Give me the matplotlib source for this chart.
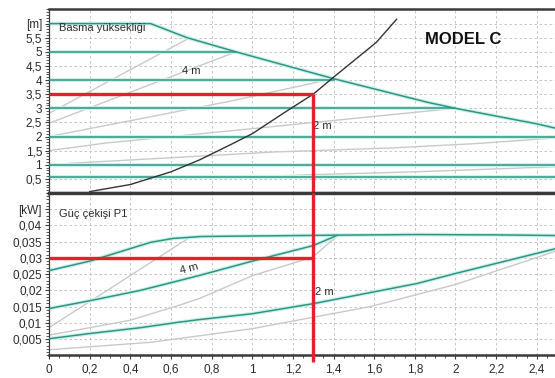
import matplotlib
matplotlib.use("Agg")
import matplotlib.pyplot as plt
from matplotlib.ticker import MultipleLocator

plt.rcParams['font.family'] = ['Liberation Sans', 'DejaVu Sans']

# ---------------- data ----------------
x_ticks = [0, 0.2, 0.4, 0.6, 0.8, 1.0, 1.2, 1.4, 1.6, 1.8, 2.0, 2.2, 2.4]
x_labels = ['0', '0,2', '0,4', '0,6', '0,8', '1', '1,2', '1,4', '1,6', '1,8', '2', '2,2', '2,4']
h_ticks = [0.5, 1, 1.5, 2, 2.5, 3, 3.5, 4, 4.5, 5, 5.5, 6]
h_labels = ['0,5', '1', '1,5', '2', '2,5', '3', '3,5', '4', '4,5', '5', '5,5', '[m]']
p_ticks = [0.005, 0.01, 0.015, 0.02, 0.025, 0.03, 0.035, 0.04, 0.045]
p_labels = ['0,005', '0,01', '0,015', '0,02', '0,025', '0,03', '0,035', '0,04', '[kW]']

# head: max curve
q_max = [0, 0.5, 0.68, 0.92, 1.4, 1.87, 2.0, 2.4, 2.49]
h_max = [6.0, 6.0, 5.5, 5.0, 4.05, 3.2, 3.0, 2.45, 2.3]
# constant-head (teal) lines: level and end flow
h_const = [5, 4, 3, 2, 1, 0.55]
h_const_end = [0.92, 1.4, 2.0, 2.49, 2.49, 2.49]
# grey head curves
hg_q = [[0, 0.68], [0, 0.92], [0, 0.89, 1.4], [0, 0.28, 0.89, 1.72, 2.0],
        [0.1, 0.6, 1.1, 1.7, 2.1, 2.49], [0.9, 1.3, 1.8, 2.49]]
hg_h = [[2.82, 5.45], [2.47, 5.0], [2.0, 3.25, 4.05], [1.5, 1.77, 2.2, 2.8, 3.0],
        [1.05, 1.25, 1.45, 1.6, 1.75, 1.95], [0.55, 0.65, 0.75, 0.93]]
# system curve
sys_q = [0.2, 0.4, 0.6, 0.74, 0.89, 1.0, 1.18, 1.3, 1.4, 1.61, 1.71]
sys_h = [0.05, 0.3, 0.75, 1.17, 1.7, 2.1, 2.95, 3.5, 4.1, 5.33, 6.15]

# power: teal curves
pt_q = [[0, 0.2, 0.5, 0.61, 0.75, 1.4, 1.8, 2.2, 2.49],
        [0, 0.2, 0.45, 0.64, 0.74, 1.0, 1.3, 1.42],
        [0, 0.2, 0.45, 0.64, 0.74, 1.0, 1.3, 1.53, 1.81, 2.0, 2.2, 2.4, 2.49]]
pt_p = [[0.0261, 0.029, 0.0348, 0.036, 0.0366, 0.037, 0.0372, 0.0371, 0.0369],
        [0.0144, 0.0168, 0.020, 0.023, 0.0246, 0.029, 0.0338, 0.037],
        [0.0051, 0.0067, 0.0085, 0.0102, 0.011, 0.0128, 0.0159, 0.0187, 0.0221, 0.0252, 0.0283, 0.0314, 0.0328]]
# power: grey curves
pg_q = [[0, 0.69], [0, 0.4, 0.64, 0.74, 1.0, 1.3, 1.42],
        [0, 0.5, 0.74, 1.0, 1.53, 1.6, 2.0, 2.49]]
pg_p = [[0.0085, 0.0362], [0.0062, 0.0108, 0.0154, 0.0175, 0.0245, 0.0303, 0.037],
        [0.0017, 0.004, 0.006, 0.0082, 0.0144, 0.0153, 0.0218, 0.032]]

duty_q = 1.3
duty_h = 3.5
duty_p = 0.03

# ---------------- styles ----------------
TEAL = '#2f9583'
HALO = '#cdf2ec'
GREY = '#c9c9c9'
RED = '#e3202b'
SPINE = '#3a3a3a'
TXT = '#2a2a2a'

fig = plt.figure(figsize=(5.55, 3.78), dpi=100)
ax1 = fig.add_axes([0.0883, 0.4894, 0.9117, 0.4855])
ax2 = fig.add_axes([0.0883, 0.0601, 0.9117, 0.4293])


def style(ax, yt, yl, minor, ylim):
    ax.set_xlim(0, 2.49)
    ax.set_ylim(*ylim)
    ax.set_xticks(x_ticks)
    ax.set_yticks(yt)
    ax.set_yticklabels(yl)
    ax.xaxis.set_minor_locator(MultipleLocator(0.05))
    ax.yaxis.set_minor_locator(MultipleLocator(minor))
    ax.tick_params(which='major', length=3, width=0.8, color=SPINE, labelsize=8.5,
                   labelcolor=TXT, pad=2)
    ax.tick_params(which='minor', length=2, width=0.6, color=SPINE)
    ax.grid(True, which='major', color='#bdbdbd', linestyle=(0, (3, 3)), linewidth=0.6)
    ax.set_axisbelow(True)
    ax.spines['right'].set_visible(False)
    ax.spines['left'].set_color(SPINE)
    ax.spines['left'].set_linewidth(0.9)


def teal(ax, x, y):
    ax.plot(x, y, color=HALO, lw=2.8, solid_capstyle='butt', zorder=2)
    ax.plot(x, y, color=TEAL, lw=1.1, zorder=3)


style(ax1, h_ticks, h_labels, 0.1, (0, 6.5))
ax1.tick_params(axis='x', which='both', labelbottom=False)
ax1.spines['top'].set_color(SPINE)
ax1.spines['top'].set_linewidth(1.8)
ax1.spines['bottom'].set_color(SPINE)
ax1.spines['bottom'].set_linewidth(2.4)

style(ax2, p_ticks, p_labels, 0.001, (0, 0.05))
ax2.set_xticklabels(x_labels)
ax2.tick_params(axis='x', which='major', pad=3)
ax2.spines['top'].set_color(SPINE)
ax2.spines['top'].set_linewidth(2.4)
ax2.spines['bottom'].set_color(SPINE)
ax2.spines['bottom'].set_linewidth(1.8)

# ---- head panel ----
for q, h in zip(hg_q, hg_h):
    ax1.plot(q, h, color=GREY, lw=1.0, zorder=2)
for lvl, end in zip(h_const, h_const_end):
    teal(ax1, [0, end], [lvl, lvl])
teal(ax1, q_max, h_max)
ax1.plot(sys_q, sys_h, color='#333333', lw=1.0, zorder=4)
ax1.plot([0, duty_q], [duty_h, duty_h], color=RED, lw=2.4, zorder=5, solid_capstyle='butt')
ax1.plot([duty_q, duty_q], [0, duty_h], color=RED, lw=2.4, zorder=5, solid_capstyle='butt')

ax1.text(0.05, 6.03, 'Basma yüksekliği', fontsize=8, color=TXT, va='top', ha='left', zorder=6)
ax1.text(0.70, 4.32, '4 m', fontsize=8, color=TXT, va='center', ha='center', zorder=6)
ax1.text(1.30, 2.37, '2 m', fontsize=8, color=TXT, va='center', ha='left', zorder=4)
ax1.text(2.04, 5.42, 'MODEL C', fontsize=12, fontweight='bold', color='#111111',
         va='center', ha='center', zorder=6)

# ---- power panel ----
for q, p in zip(pg_q, pg_p):
    ax2.plot(q, p, color=GREY, lw=1.0, zorder=2)
for q, p in zip(pt_q, pt_p):
    teal(ax2, q, p)
ax2.plot([0, duty_q], [duty_p, duty_p], color=RED, lw=2.4, zorder=5, solid_capstyle='butt')
ax2.plot([duty_q, duty_q], [-0.002, 0.05], color=RED, lw=2.4, zorder=5,
         solid_capstyle='butt', clip_on=False)

ax2.text(0.05, 0.0434, 'Güç çekişi P1', fontsize=8, color=TXT, va='center', ha='left', zorder=6)
ax2.text(0.69, 0.0266, '4 m', fontsize=8, color=TXT, va='center', ha='center',
         rotation=15, zorder=6)
ax2.text(1.31, 0.0195, '2 m', fontsize=8, color=TXT, va='center', ha='left', zorder=4)

fig.savefig('out.png', dpi=100)
